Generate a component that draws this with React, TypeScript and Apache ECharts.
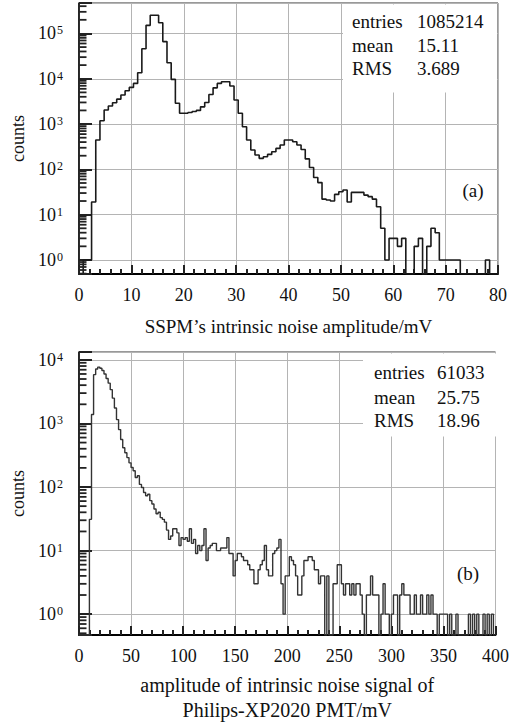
import React, { useEffect, useRef } from "react";
import * as echarts from "echarts";

// ---------- data ----------
const sspmBinWidth = 0.8; // mV per bin, 100 bins over 0..80
const sspmCounts = [
  0, 1, 1, 19, 444, 1180, 2040, 2500, 2960, 3550,
  4370, 5450, 6440, 7900, 13600, 46000, 151000, 252000, 252000, 172000,
  66000, 22500, 9700, 2870, 1730, 1730, 1800, 1900, 2000, 2400,
  3000, 4500, 6300, 7900, 8600, 8600, 6900, 3390, 1730, 870,
  444, 267, 208, 175, 190, 214, 245, 290, 345, 444,
  444, 408, 345, 275, 170, 110, 66, 51, 22, 21,
  20, 28, 32, 35, 19, 31, 31, 31, 27, 25,
  22, 15, 5, 1, 3, 3, 2, 3, 0, 0,
  2, 3, 0, 2, 5, 4, 1, 1, 1, 1,
  1, 0, 0, 0, 0, 0, 0, 1, 0, 0,
];
const sspmStats = [
  ["entries", "1085214"],
  ["mean", "15.11"],
  ["RMS", "3.689"],
];

const pmtBinWidth = 2; // mV per bin, 200 bins over 0..400
const pmtCounts = [
  0, 0, 0, 0, 0, 31, 1380, 5860, 7200, 7700,
  7400, 6800, 6000, 5100, 4300, 3400, 2500, 1750, 1150, 800,
  560, 415, 345, 290, 240, 203, 180, 141, 150, 110,
  98, 82, 73, 77, 61, 54, 45, 38, 40, 33,
  31, 28, 21, 15, 17, 22, 22, 19, 12, 16,
  15, 16, 14, 22, 13, 15, 9, 12, 10, 12,
  22, 7, 11, 12, 13, 13, 10, 10, 11, 11,
  11, 16, 9, 9, 4, 7, 9, 9, 8, 7,
  7, 6, 5, 5, 3, 3, 5, 6, 7, 12,
  5, 4, 4, 9, 10, 11, 15, 3, 1, 4,
  4, 8, 7, 6, 4, 2, 2, 4, 7, 7,
  8, 8, 7, 5, 5, 3, 4, 4, 0, 4,
  0, 0, 3, 3, 6, 6, 3, 2, 3, 3,
  2, 3, 2, 3, 3, 2, 1, 0, 2, 2,
  4, 2, 2, 2, 0, 1, 3, 1, 1, 0,
  1, 2, 2, 0, 2, 3, 2, 2, 2, 1,
  1, 2, 1, 1, 2, 1, 1, 2, 1, 2,
  1, 1, 0, 1, 1, 1, 1, 0, 1, 0,
  0, 1, 0, 0, 0, 0, 0, 1, 0, 1,
  0, 1, 0, 0, 1, 0, 1, 0, 1, 0,
];
const pmtStats = [
  ["entries", "61033"],
  ["mean", "25.75"],
  ["RMS", "18.96"],
];

const topXMax = 80;
const topXInterval = 10;
const topXMinorStep = 2;
const botXMax = 400;
const botXInterval = 50;
const botXMinorStep = 10;
const topYRange = [0.49, 4.7e5];
const botYRange = [0.47, 1.33e4];
const logMinorMultipliers = [2, 3, 4, 5, 6, 7, 8, 9];

const topXTitle = "SSPM\u2019s intrinsic noise amplitude/mV";
const botXTitle = "amplitude of intrinsic noise signal of\nPhilips-XP2020 PMT/mV";
const yTitle = "counts";

// ---------- helpers ----------
const FONT = "'Liberation Serif', 'Times New Roman', serif";
const INK = "#111";
const TICK = "#222";

function stepData(counts: number[], w: number, floor: number) {
  const pts: number[][] = counts.map((c, i) => [i * w, c > 0 ? c : floor]);
  const last = counts[counts.length - 1];
  pts.push([counts.length * w, last > 0 ? last : floor]);
  pts.push([counts.length * w, floor]);
  return pts;
}

function isDecade(v: number) {
  const e = Math.log10(v);
  return Math.abs(e - Math.round(e)) < 1e-6;
}

function yMinorTicks(range: number[]) {
  const out: number[] = [];
  const lo = Math.floor(Math.log10(range[0]));
  const hi = Math.ceil(Math.log10(range[1]));
  for (let d = lo; d <= hi; d++) {
    logMinorMultipliers.forEach((m) => {
      const v = m * Math.pow(10, d);
      if (v > range[0] && v < range[1]) out.push(v);
    });
  }
  return out;
}

function makeXAxis(gridIndex: number, max: number, interval: number, name: string, nameGap: number, nameSize: number) {
  return {
    type: "value",
    gridIndex,
    min: 0,
    max,
    interval,
    axisLine: { show: true, onZero: false, lineStyle: { color: "#000", width: 2 } },
    axisTick: { show: true, inside: true, length: 9, lineStyle: { color: TICK, width: 2 } },
    splitLine: { show: true, lineStyle: { color: "#b4b4b4", width: 1 } },
    axisLabel: {
      color: INK,
      fontSize: 18,
      fontFamily: FONT,
      margin: 12,
      showMinLabel: true,
      showMaxLabel: true,
    },
    name,
    nameLocation: "middle",
    nameGap,
    nameTextStyle: { color: INK, fontSize: nameSize, fontFamily: FONT, lineHeight: 25 },
  };
}

// an unlabeled companion axis that only carries the minor ticks
function makeXMinorAxis(gridIndex: number, max: number, step: number) {
  return {
    type: "value",
    gridIndex,
    position: "bottom",
    offset: 0,
    min: 0,
    max,
    interval: step,
    axisLine: { show: false, onZero: false },
    axisTick: { show: true, inside: true, length: 5, lineStyle: { color: TICK, width: 2 } },
    splitLine: { show: false },
    axisLabel: { show: false },
  };
}

function makeYAxis(gridIndex: number, range: number[]) {
  return {
    type: "log",
    logBase: 10,
    gridIndex,
    min: range[0],
    max: range[1],
    axisLine: { show: true, lineStyle: { color: "#000", width: 1.5 } },
    axisTick: { show: true, inside: true, length: 13, lineStyle: { color: TICK, width: 2 } },
    splitLine: { show: true, lineStyle: { color: "#b4b4b4", width: 1 } },
    axisLabel: {
      margin: 16,
      formatter: (v: number) => {
        if (!isDecade(v)) return "";
        return `{b|10}{s|${Math.round(Math.log10(v))}}`;
      },
      rich: {
        b: { fontSize: 18, fontFamily: FONT, color: INK },
        s: { fontSize: 12, fontFamily: FONT, color: INK, verticalAlign: "top", padding: [0, 0, 0, 1] },
      },
    },
    name: yTitle,
    nameLocation: "middle",
    nameRotate: 90,
    nameGap: 52,
    nameTextStyle: { color: INK, fontSize: 18, fontFamily: FONT },
  };
}

function statsGraphics(
  stats: string[][],
  box: { x: number; y: number; w: number; h: number },
  labelX: number,
  valueX: number,
  rowsY: number[]
) {
  const els: any[] = [
    {
      type: "rect",
      z: 1,
      shape: { x: box.x, y: box.y, width: box.w, height: box.h },
      style: { fill: "#fff" },
      silent: true,
    },
  ];
  stats.forEach((row, i) => {
    els.push({
      type: "text",
      z: 10,
      style: { text: row[0], x: labelX, y: rowsY[i], fontSize: 19, fontFamily: FONT, fill: INK, verticalAlign: "middle", align: "left" },
    });
    els.push({
      type: "text",
      z: 10,
      style: { text: row[1], x: valueX, y: rowsY[i], fontSize: 19, fontFamily: FONT, fill: INK, verticalAlign: "middle", align: "left" },
    });
  });
  return els;
}

export default function App() {
  const ref = useRef<HTMLDivElement>(null);
  useEffect(() => {
    if (!ref.current) return;
    const chart = echarts.init(ref.current, null, { renderer: "svg" });
    const baseGraphics = [
      ...statsGraphics(sspmStats, { x: 343, y: 4.5, w: 154, h: 88 }, 352, 417, [21, 45, 68]),
      ...statsGraphics(pmtStats, { x: 363, y: 353.5, w: 134, h: 83 }, 374, 437, [372, 397, 420]),
      { type: "text", z: 10, style: { text: "(a)", x: 473, y: 190, fontSize: 19, fontFamily: FONT, fill: INK, align: "center", verticalAlign: "middle" } },
      { type: "text", z: 10, style: { text: "(b)", x: 468, y: 573, fontSize: 19, fontFamily: FONT, fill: INK, align: "center", verticalAlign: "middle" } },
    ];
    const option: any = {
      animation: false,
      backgroundColor: "#fff",
      textStyle: { fontFamily: FONT },
      grid: [
        { left: 79, top: 3, width: 419, height: 271, show: true, borderColor: "#333", borderWidth: 1, backgroundColor: "transparent" },
        { left: 79, top: 352, width: 419, height: 284, show: true, borderColor: "#333", borderWidth: 1, backgroundColor: "transparent" },
      ],
      xAxis: [
        makeXAxis(0, topXMax, topXInterval, topXTitle, 40, 19),
        makeXAxis(1, botXMax, botXInterval, botXTitle, 37, 20),
        makeXMinorAxis(0, topXMax, topXMinorStep),
        makeXMinorAxis(1, botXMax, botXMinorStep),
      ],
      yAxis: [makeYAxis(0, topYRange), makeYAxis(1, botYRange)],
      series: [
        {
          type: "line",
          xAxisIndex: 0,
          yAxisIndex: 0,
          step: "end",
          symbol: "none",
          showSymbol: false,
          clip: true,
          lineStyle: { color: "#1a1a1a", width: 1.6 },
          data: stepData(sspmCounts, sspmBinWidth, topYRange[0]),
          z: 3,
        },
        {
          type: "line",
          xAxisIndex: 1,
          yAxisIndex: 1,
          step: "end",
          symbol: "none",
          showSymbol: false,
          clip: true,
          lineStyle: { color: "#333", width: 1.4 },
          data: stepData(pmtCounts, pmtBinWidth, botYRange[0]),
          z: 3,
        },
      ],
      graphic: baseGraphics,
    };
    chart.setOption(option);

    // log minor ticks on the y axes, placed through the chart's own y scale
    const tickEls: any[] = [];
    const addYTicks = (yAxisIndex: number, xAxisIndex: number, ticks: number[]) => {
      ticks.forEach((v) => {
        const p = chart.convertToPixel({ xAxisIndex, yAxisIndex } as any, [0, v]) as any;
        if (!p || isNaN(p[0]) || isNaN(p[1])) return;
        tickEls.push({
          type: "line",
          z: 50,
          silent: true,
          shape: { x1: p[0] + 0.5, y1: p[1], x2: p[0] + 7.5, y2: p[1] },
          style: { stroke: TICK, lineWidth: 1.8 },
        });
      });
    };
    addYTicks(0, 0, yMinorTicks(topYRange));
    addYTicks(1, 1, yMinorTicks(botYRange));
    if (tickEls.length) chart.setOption({ graphic: [...baseGraphics, ...tickEls] });

    return () => chart.dispose();
  }, []);
  return (
    <div
      ref={ref}
      style={{ position: "absolute", left: 0, top: 0, width: 512, height: 723, background: "#fff" }}
    />
  );
}
